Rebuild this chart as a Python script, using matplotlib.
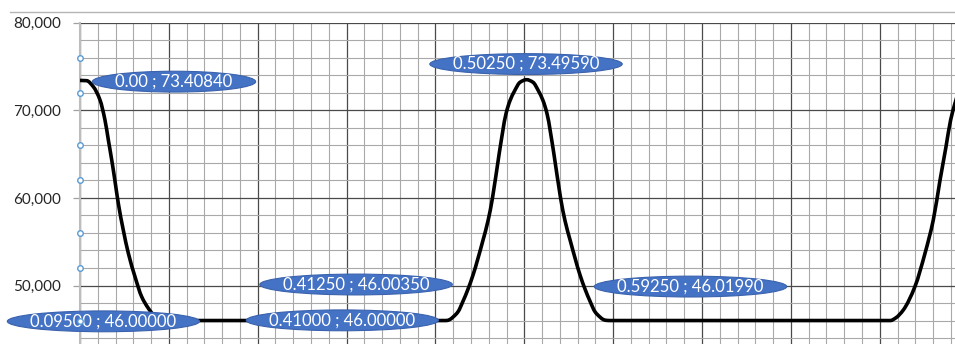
import matplotlib
matplotlib.use("Agg")
import numpy as np
import matplotlib.pyplot as plt
from matplotlib.ticker import MultipleLocator, FuncFormatter
from matplotlib.path import Path
from matplotlib.patches import PathPatch
from matplotlib.transforms import Affine2D
from matplotlib.lines import Line2D

# Traced profile (x, y)
trace_x = [0.0075, 0.015, 0.0225, 0.0281, 0.0319, 0.0357, 0.0394, 0.0431, 0.0487,
           0.0544, 0.0619, 0.0694, 0.0769, 0.0835, 0.0895,
           0.4159, 0.4198, 0.4254, 0.4310, 0.4367, 0.4423, 0.4536, 0.4592, 0.4642,
           0.4718, 0.4794, 0.4839, 0.4890, 0.4952,
           0.5098, 0.5160, 0.5211, 0.5256, 0.5332, 0.5408, 0.5458, 0.5515, 0.5627,
           0.5683, 0.5740, 0.5796, 0.5852, 0.5892,
           0.5964, 0.912, 0.918, 0.9265, 0.9397, 0.951, 0.9603, 0.9678, 0.9745,
           0.9798, 0.9847, 0.99]
trace_y = [73.38, 72.69, 71.18, 68.89, 66.61, 64.33, 61.90, 59.38, 56.34,
           53.68, 51.0, 48.72, 47.40, 46.55, 46.12,
           46.1, 46.4, 47.0, 48.2, 49.6, 51.2, 55.2, 57.4, 60.0,
           65.1, 69.6, 71.1, 72.2, 73.2,
           73.2, 72.2, 71.1, 69.6, 65.1, 60.0, 57.4, 55.2, 51.2,
           49.6, 48.2, 47.0, 46.4, 46.1,
           46.0, 46.0, 46.3, 47.2, 49.9, 53.7, 57.5, 62.0, 65.8,
           68.9, 70.8, 72.6]

# Labelled points
label_x = [0.0, 0.095, 0.41, 0.4125, 0.5025, 0.5925]
label_y = [73.4084, 46.0, 46.0, 46.0035, 73.4959, 46.0199]
label_xdec = [2, 5, 5, 5, 5, 5]

# Selection handles on the value axis
handle_y = [76, 72, 66, 62, 56, 52, 46]

y_ticks = [50, 60, 70, 80]

# oval label placement: centre offset from the point, in pixels
label_offsets = [(94, -1.2), (-61, -0.8), (-102, 0.2), (-90.5, 36), (-0.5, 15.6), (84, 33.8)]

pts = sorted(zip(trace_x + label_x, trace_y + label_y))
cx = np.array([p[0] for p in pts])
cy = np.array([p[1] for p in pts])


def smooth_path(x, y):
    """Monotone cubic (Fritsch-Carlson) Bezier path through the points."""
    h = np.diff(x)
    d = np.diff(y) / h
    m = np.zeros_like(y)
    m[0], m[-1] = d[0], d[-1]
    for k in range(1, len(x) - 1):
        if d[k - 1] * d[k] > 0:
            w1 = 2 * h[k] + h[k - 1]
            w2 = h[k] + 2 * h[k - 1]
            m[k] = (w1 + w2) / (w1 / d[k - 1] + w2 / d[k])
    verts = [(x[0], y[0])]
    codes = [Path.MOVETO]
    for k in range(len(x) - 1):
        verts += [(x[k] + h[k] / 3, y[k] + m[k] * h[k] / 3),
                  (x[k + 1] - h[k] / 3, y[k + 1] - m[k + 1] * h[k] / 3),
                  (x[k + 1], y[k + 1])]
        codes += [Path.CURVE4] * 3
    return Path(verts, codes)


W, H = 955, 344
fig = plt.figure(figsize=(W / 100, H / 100), dpi=100)
ax = fig.add_axes([80 / W, 0, 1 - 80 / W, (H - 22.7) / H])
ax.set_xlim(0, (W - 80) / 888.6)
ax.set_ylim(80 - (H - 22.7) / 8.76, 80)

ax.xaxis.set_major_locator(MultipleLocator(0.1))
ax.xaxis.set_minor_locator(MultipleLocator(0.02))
ax.set_yticks(y_ticks)
ax.yaxis.set_minor_locator(MultipleLocator(2))
ax.yaxis.set_major_formatter(FuncFormatter(lambda v, p: f"{v:.3f}".replace(".", ",")))

ax.grid(which="minor", color="#a9a9a9", linewidth=0.8)
ax.grid(which="major", color="#4a4a4a", linewidth=0.9)
ax.set_axisbelow(True)

ax.tick_params(axis="x", which="both", length=0, labelbottom=False)
ax.tick_params(axis="y", which="minor", length=0)
ax.tick_params(axis="y", which="major", length=5, width=0.9, color="#a0a0a0",
               pad=8.9, labelsize=11, labelcolor="#262626")
for lab in ax.get_yticklabels():
    lab.set_fontfamily("Lato")

for s in ("top", "right", "bottom"):
    ax.spines[s].set_visible(False)
ax.spines["left"].set_color("#bdbdbd")
ax.spines["left"].set_linewidth(1.5)

ax.add_patch(PathPatch(smooth_path(cx, cy), facecolor="none", edgecolor="black",
                       linewidth=2.6, capstyle="round", joinstyle="round", zorder=3))


def oval(x0, y0, width, height, mutation_size):
    rx = width / 2 + 1.37 * mutation_size
    ry = 0.62 * mutation_size
    tr = Affine2D().scale(rx, ry).translate(x0 + width / 2, y0 + height / 2)
    return tr.transform_path(Path.unit_circle())


for x, y, dec, (dx, dy) in zip(label_x, label_y, label_xdec, label_offsets):
    txt = f"{x:.{dec}f} ; {y:.5f}"
    ax.annotate(txt, (x, y), xytext=(dx, dy), textcoords="offset pixels",
                ha="center", va="center", color="white", fontsize=12.1,
                fontfamily="Lato", annotation_clip=False, zorder=6,
                bbox=dict(boxstyle=oval, fc="#4472c4", ec="#3a62ad", lw=0.8))

ax.plot([0] * len(handle_y), handle_y, linestyle="none", marker="o", markersize=4,
        markerfacecolor="white", markeredgecolor="#5b9bd5", markeredgewidth=1.0,
        clip_on=False, zorder=8)

fig.add_artist(Line2D([10 / W, 1], [1 - 12.3 / H] * 2, transform=fig.transFigure,
                      color="#b5b5b5", linewidth=1.0))

fig.savefig("out.png", dpi=100)
